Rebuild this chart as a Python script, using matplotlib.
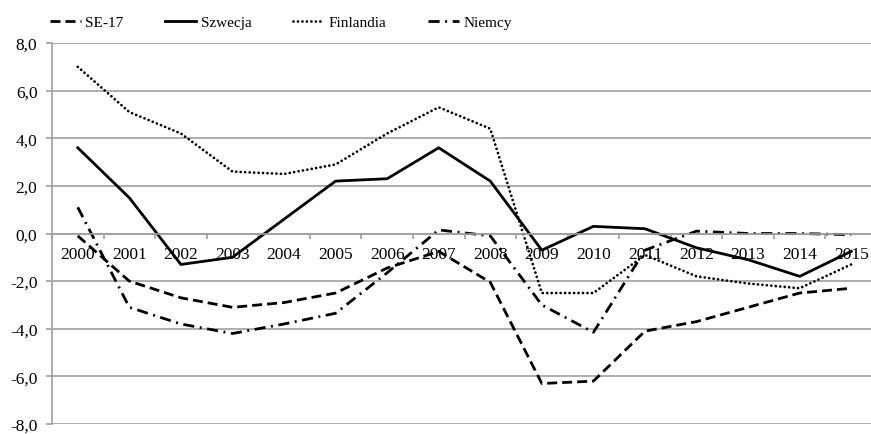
import numpy as np
import matplotlib
matplotlib.use('Agg')
import matplotlib.pyplot as plt
from matplotlib.ticker import FixedLocator, FuncFormatter

plt.rcParams['font.family'] = ['Liberation Serif', 'DejaVu Serif']

years = [str(y) for y in range(2000, 2016)]
se17 = [-0.1, -2.0, -2.7, -3.1, -2.9, -2.5, -1.45, -0.75, -2.05, -6.3, -6.2, -4.1, -3.7, -3.1, -2.5, -2.3]
szwecja = [3.6, 1.5, -1.3, -1.0, 0.6, 2.2, 2.3, 3.6, 2.2, -0.7, 0.3, 0.2, -0.6, -1.1, -1.8, -0.75]
finlandia = [7.0, 5.1, 4.2, 2.6, 2.5, 2.9, 4.2, 5.3, 4.4, -2.5, -2.5, -0.9, -1.8, -2.1, -2.3, -1.3]
niemcy = [1.1, -3.1, -3.8, -4.2, -3.8, -3.35, -1.65, 0.15, -0.1, -3.0, -4.15, -0.7, 0.1, 0.0, 0.0, -0.05]

fig = plt.figure(figsize=(8.71, 4.35), dpi=100)
ax = fig.add_axes([52 / 871, 1 - 425 / 435, 825 / 871, 381 / 435])

x = np.arange(len(years))
ax.plot(x, se17, color='black', lw=2, ls=(0, (3.6, 1.8)), label='SE-17')
ax.plot(x, szwecja, color='black', lw=2, ls='-', label='Szwecja')
ax.plot(x, finlandia, color='black', lw=2, ls=(0, (0.01, 1.6)), dash_capstyle='round', label='Finlandia')
ax.plot(x, niemcy, color='black', lw=2, ls=(0, (4, 2, 0.7, 2)), label='Niemcy')

ax.set_ylim(-8, 8)
ax.set_xlim(-0.5, len(years) - 0.5)
ax.set_yticks(np.arange(-8, 9, 2))
ax.yaxis.set_major_formatter(FuncFormatter(lambda v, p: f'{v:.1f}'.replace('.', ',')))
ax.grid(axis='y', color='#a0a0a0', lw=1.2)
ax.set_axisbelow(True)

for s in ['top', 'right']:
    ax.spines[s].set_visible(False)
ax.spines['left'].set_color('#a0a0a0')
ax.spines['left'].set_linewidth(1.2)
ax.spines['bottom'].set_color('#a0a0a0')
ax.spines['bottom'].set_linewidth(1.2)
ax.spines['bottom'].set_position(('data', 0))

ax.xaxis.set_major_locator(FixedLocator(np.arange(-0.5, len(years), 1)))
ax.xaxis.set_major_formatter(FuncFormatter(lambda v, p: ''))
ax.xaxis.set_minor_locator(FixedLocator(x))
ax.set_xticklabels(years, minor=True)
ax.tick_params(axis='x', which='major', direction='out', length=3.8, width=1.2, color='#a0a0a0')
ax.tick_params(axis='x', which='minor', length=0, pad=9, labelsize=12.5)
ax.tick_params(axis='y', direction='out', length=4.5, width=1.2, color='#a0a0a0', labelsize=12.5, pad=6)

fig.legend(loc='center left', bbox_to_anchor=(50 / 871, 1 - 23 / 435), ncol=4, frameon=False,
           fontsize=11, handlelength=2.0, handletextpad=0.3, columnspacing=2.75,
           borderpad=0, borderaxespad=0)

fig.savefig('out.png', dpi=100)
